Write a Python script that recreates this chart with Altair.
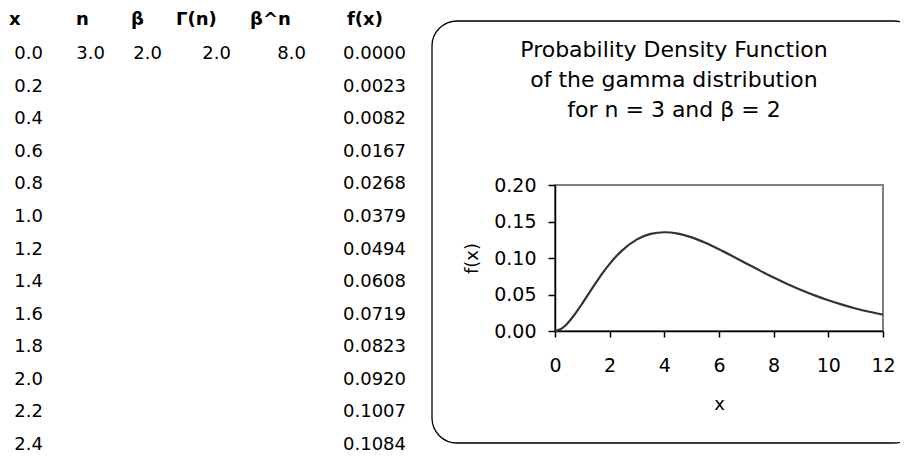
import altair as alt
import pandas as pd

# ---- data ----
x_values = [0.0, 0.2, 0.4, 0.6, 0.8, 1.0, 1.2, 1.4, 1.6, 1.8, 2.0, 2.2, 2.4]
fx_values = [0.0000, 0.0023, 0.0082, 0.0167, 0.0268, 0.0379, 0.0494,
             0.0608, 0.0719, 0.0823, 0.0920, 0.1007, 0.1084]
n_value = 3.0
beta_value = 2.0
gamma_n_value = 2.0
beta_pow_n_value = 8.0
headers = ["x", "n", "β", "Γ(n)", "β^n", "f(x)"]

# rest of the plotted curve (beyond the visible table rows)
curve_x = [3.0, 3.5, 4.0, 4.5, 5.0, 5.5, 6.0, 6.5, 7.0, 7.5, 8.0, 8.5,
           9.0, 9.5, 10.0, 10.5, 11.0, 11.5, 12.0]
curve_y = [0.1255, 0.1330, 0.1353, 0.1334, 0.1283, 0.1209, 0.1120, 0.1024,
           0.0925, 0.0827, 0.0733, 0.0644, 0.0562, 0.0488, 0.0421, 0.0362,
           0.0309, 0.0263, 0.0223]

title_lines = ["Probability Density Function", "of the gamma distribution",
               "for n = 3 and β = 2"]
x_ticks = [0, 2, 4, 6, 8, 10, 12]
y_ticks = [0.0, 0.05, 0.10, 0.15, 0.20]

FONT = "DejaVu Sans"

# ---- tables for the library ----
cells = []
for i, (xv, fv) in enumerate(zip(x_values, fx_values)):
    cells.append({"row": i + 1, "ci": 0, "label": f"{xv:.1f}"})
    cells.append({"row": i + 1, "ci": 5, "label": f"{fv:.4f}"})
for ci, v in zip([1, 2, 3, 4], [n_value, beta_value, gamma_n_value, beta_pow_n_value]):
    cells.append({"row": 1, "ci": ci, "label": f"{v:.1f}"})
cells_df = pd.DataFrame(cells)
head_df = pd.DataFrame({"row": [0] * len(headers), "ci": list(range(len(headers))),
                        "label": headers})
curve_df = pd.DataFrame({"x": x_values + curve_x, "y": fx_values + curve_y})

row_scale = alt.Scale(domain=[0, 1, 13], range=[-160, -126, 265], zero=False, nice=False)

frame = alt.Chart(pd.DataFrame({"k": [0]})).mark_rect(
    cornerRadius=25, fill="transparent", stroke="black", strokeWidth=1.3
).encode(x=alt.value(-123), x2=alt.value(364), y=alt.value(-164), y2=alt.value(258))

title = alt.Chart(pd.DataFrame({"t": ["\n".join(title_lines)]})).mark_text(
    lineBreak="\n", align="center", baseline="alphabetic", font=FONT,
    fontSize=22, lineHeight=30, color="black"
).encode(x=alt.value(119), y=alt.value(-128), text="t:N")

line = alt.Chart(curve_df).mark_line(
    color="#333333", strokeWidth=2.2, interpolate="monotone"
).encode(
    x=alt.X("x:Q", scale=alt.Scale(domain=[0, 12], nice=False, zero=False),
            axis=alt.Axis(values=x_ticks, title="x", format="d", grid=False,
                          tickSize=6, labelPadding=34, labelBaseline="alphabetic",
                          labelFlush=False, titleX=164, titleY=78,
                          titleBaseline="alphabetic", titleAlign="center")),
    y=alt.Y("y:Q", scale=alt.Scale(domain=[0, 0.2], nice=False),
            axis=alt.Axis(values=y_ticks, title="f(x)", format=".2f", grid=False,
                          tickSize=7, labelPadding=12, labelFlush=False,
                          titleX=-83, titleY=73, titleAlign="center",
                          titleBaseline="middle")),
)

vals = alt.Chart(cells_df).mark_text(
    align="right", baseline="alphabetic", font=FONT, fontSize=18, color="black"
).encode(
    x=alt.X("ci:Q", scale=alt.Scale(domain=[0, 1, 2, 3, 4, 5],
                                     range=[-512, -450, -393, -324, -249, -149],
                                     zero=False, nice=False), axis=None),
    y=alt.Y("row:Q", scale=row_scale, axis=None),
    text="label:N",
)

heads = alt.Chart(head_df).mark_text(
    align="left", baseline="alphabetic", font=FONT, fontSize=18,
    fontWeight="bold", color="black"
).encode(
    x=alt.X("ci:Q", scale=alt.Scale(domain=[0, 1, 2, 3, 4, 5],
                                     range=[-546, -479, -424, -379, -305, -208],
                                     zero=False, nice=False), axis=None),
    y=alt.Y("row:Q", scale=row_scale, axis=None),
    text="label:N",
)

chart = alt.layer(frame, title, line, vals, heads).resolve_scale(
    x="independent", y="independent"
).properties(
    width=328, height=146,
    autosize=alt.AutoSizeParams(type="none"),
    padding={"left": 547, "top": 177, "right": 17, "bottom": 123},
).configure_view(
    stroke="#808080", strokeWidth=2
).configure_axis(
    domainColor="black", domainWidth=1.5, tickColor="black", tickWidth=1.5,
    labelFont=FONT, labelFontSize=19, labelColor="black",
    titleFont=FONT, titleFontSize=18, titleFontWeight="normal", titleColor="black",
)

chart.save("out.html", embed_options={"renderer": "svg", "actions": False})
